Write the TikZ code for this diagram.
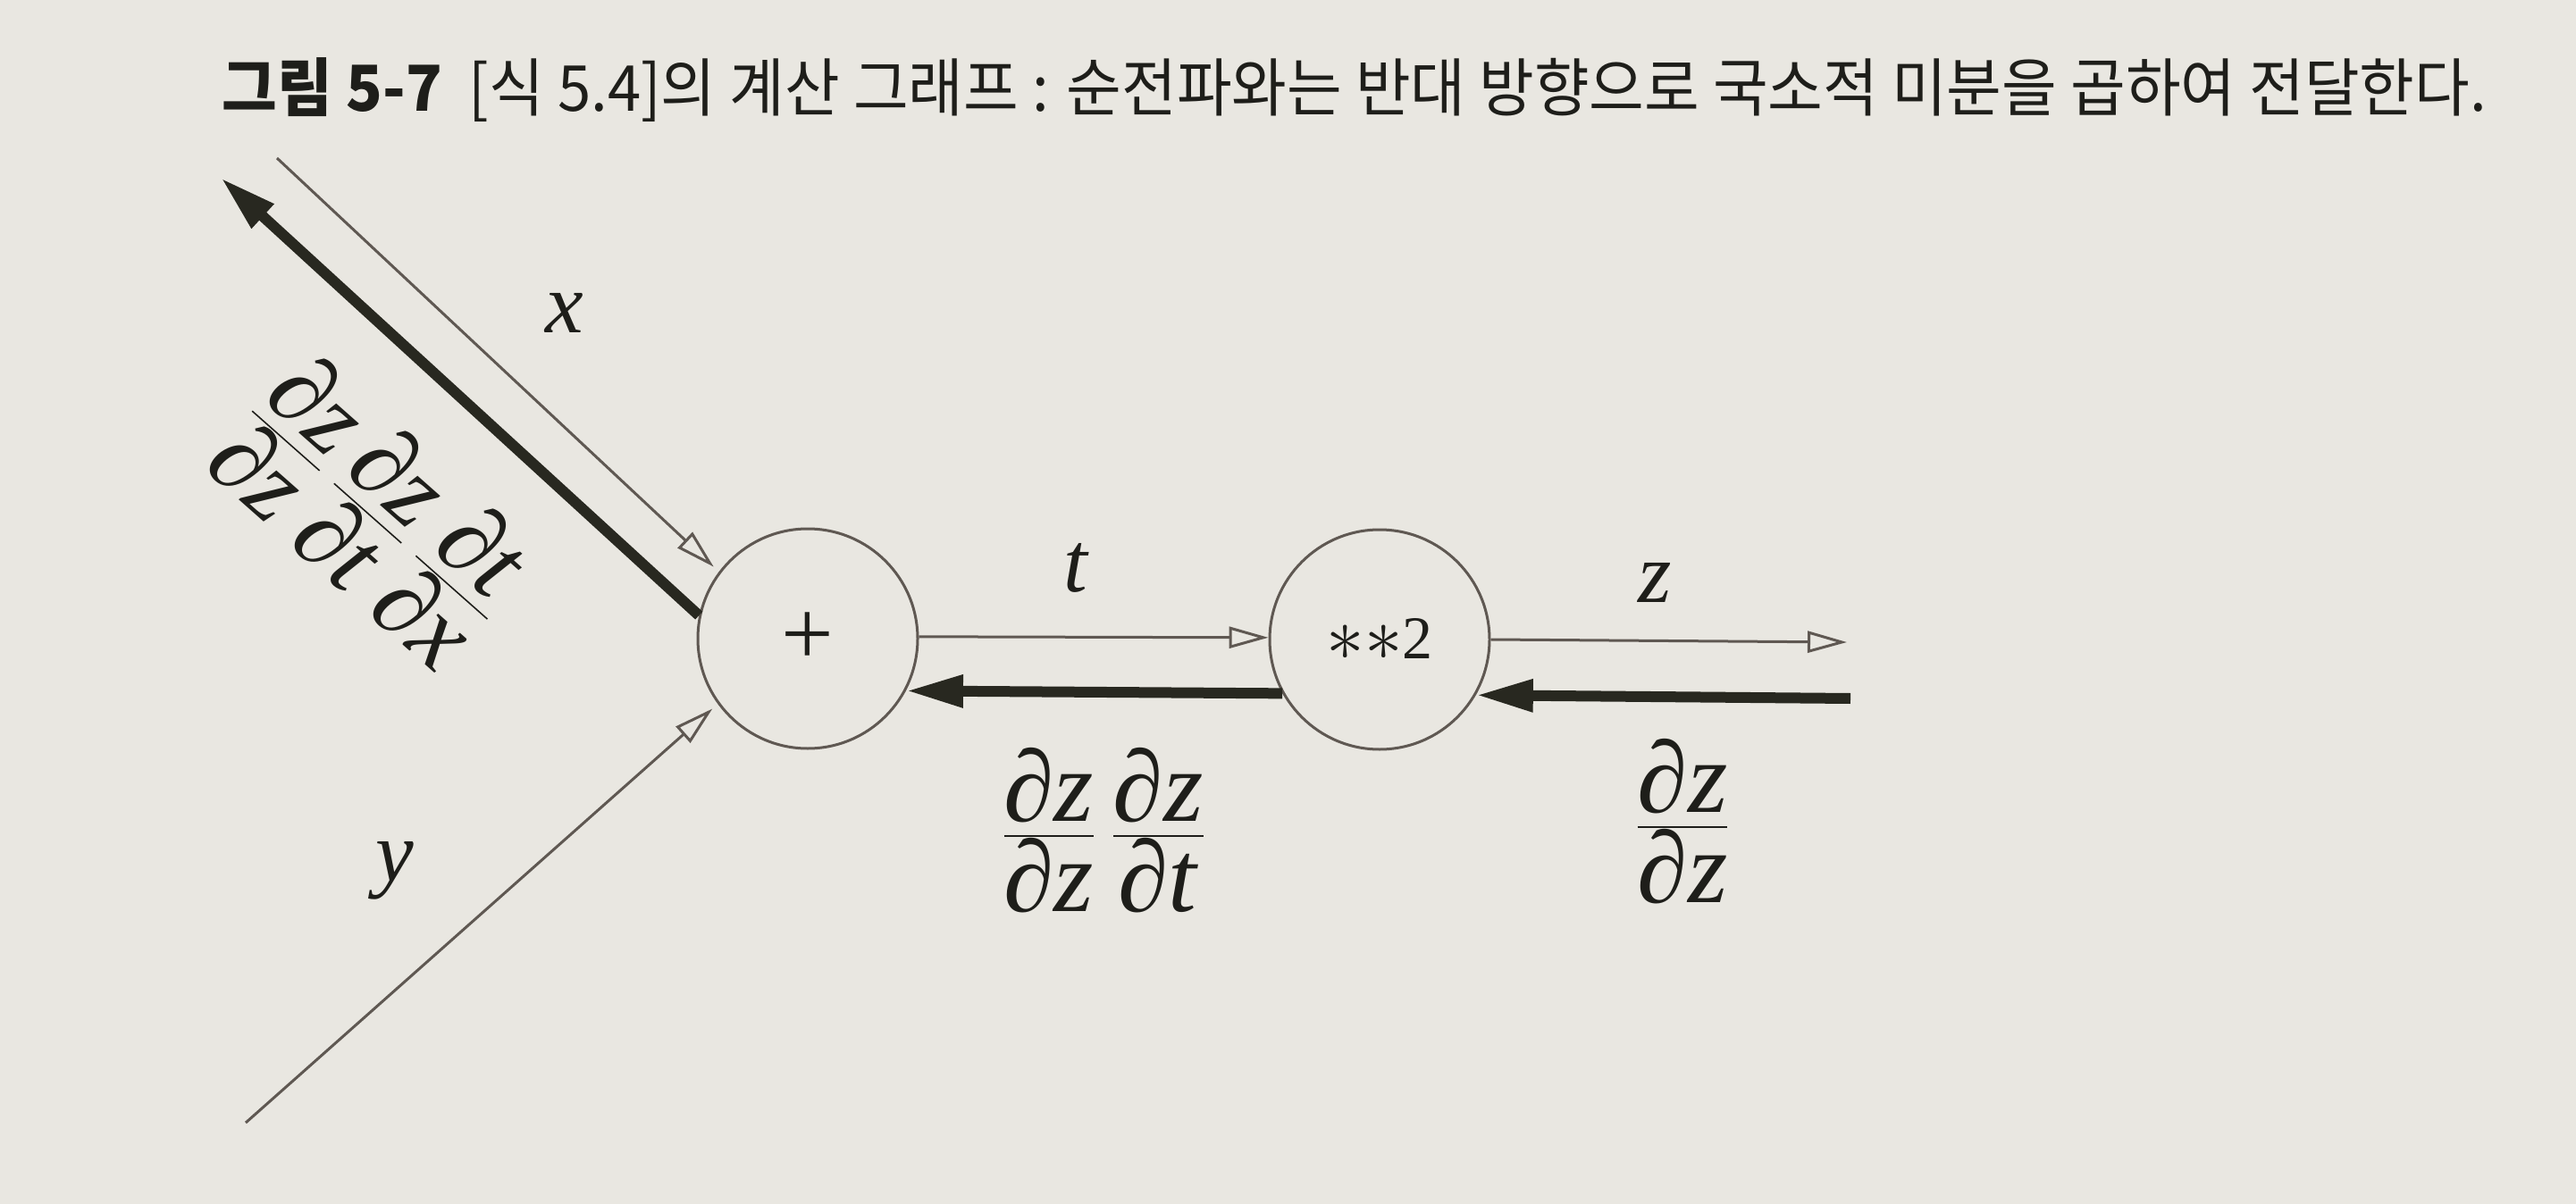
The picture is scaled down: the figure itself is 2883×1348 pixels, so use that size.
\RequirePackage{fix-cm}
\documentclass[tikz,border=0pt]{standalone}
\usepackage{fontspec}
\usepackage{graphicx}
\setmainfont{Liberation Serif}
\newfontfamily\krfont{Noto Sans CJK KR}
\usetikzlibrary{arrows.meta}
\definecolor{paper}{RGB}{233,231,225}
\definecolor{inkc}{RGB}{30,30,26}
\definecolor{thinln}{RGB}{95,88,82}
\definecolor{thickln}{RGB}{40,40,32}
\newcommand\mypd[1]{\mbox{∂\textit{#1}}}
\newcommand\bigast{\raisebox{-0.5pt}{\scalebox{1.25}{$\ast$}}}
\begin{document}
\begin{tikzpicture}[x=0.25pt,y=-0.25pt,
  opnode/.style={circle, draw=thinln, line width=0.75pt, minimum size=61.5pt, inner sep=0pt, text=inkc},
  fwd/.style={draw=thinln, line width=0.75pt, -{Triangle[open, length=11pt, width=6pt]}},
  bwd/.style={draw=thickln, line width=3pt, -{Triangle[length=16pt, width=8.5pt]}},
  lbl/.style={text=inkc, inner sep=0pt, font={\fontsize{24}{28}\selectfont}},
  fracl/.style={text=inkc, inner sep=0pt, font={\fontsize{28.5}{32}\selectfont}}]
\fill[paper] (0,0) rectangle (2883,1348);
\useasboundingbox (0,0) rectangle (2883,1348);

% title
\node[anchor=base west, inner sep=0pt, text=inkc] (title) at (248,125)
  {\resizebox{633.5pt}{\height}{\krfont\fontsize{17.75}{20}\selectfont\textbf{그림 5-7}\ \ [식 5.4]의 계산 그래프 : 순전파와는 반대 방향으로 국소적 미분을 곱하여 전달한다.}};

% operation nodes
\node[opnode, font={\fontsize{26}{28}\selectfont}] (plus) at (904,715) {+};
\node[opnode, font={\fontsize{17}{20}\selectfont}] (pow) at (1544,716) {\bigast\bigast 2};

% free ends
\coordinate (xs) at (310,177);
\coordinate (xe) at (247,199);
\coordinate (ys) at (275,1257);
\coordinate (zf) at (2067,719);
\coordinate (zb) at (2071,782);

% forward (thin) arrows
\draw[fwd, shorten >=2pt] (xs) -- (plus.143);
\draw[fwd, shorten >=2pt] (ys) -- (plus.216);
\draw[fwd] (plus.1) -- (pow.179);
\draw[fwd] (pow.0) -- (zf);

% backward (thick) arrows
\draw[bwd] (plus.168) -- (xe);
\draw[bwd] (pow.209) -- (plus.-28);
\draw[bwd] (zb) -- (pow.-30);

% labels
\node[lbl] (lx) at (632,350) {\textit{x}};
\node[lbl] (ly) at (442,975) {\textit{y}};
\node[lbl] (lt) at (1205,636) {\textit{t}};
\node[lbl] (lz) at (1852,652) {\textit{z}};

\node[fracl, rotate=-41.5] (gx) at (418,572)
  {$\frac{\mypd{z}}{\mypd{z}}\kern3pt\frac{\mypd{z}}{\mypd{t}}\kern3pt\frac{\mypd{t}}{\mypd{x}}$};
\node[fracl] (gt) at (1235,930)
  {$\frac{\mypd{z}}{\mypd{z}}\kern3pt\frac{\mypd{z}}{\mypd{t}}$};
\node[fracl] (gz) at (1883,920)
  {$\frac{\mypd{z}}{\mypd{z}}$};
\end{tikzpicture}
\end{document}
